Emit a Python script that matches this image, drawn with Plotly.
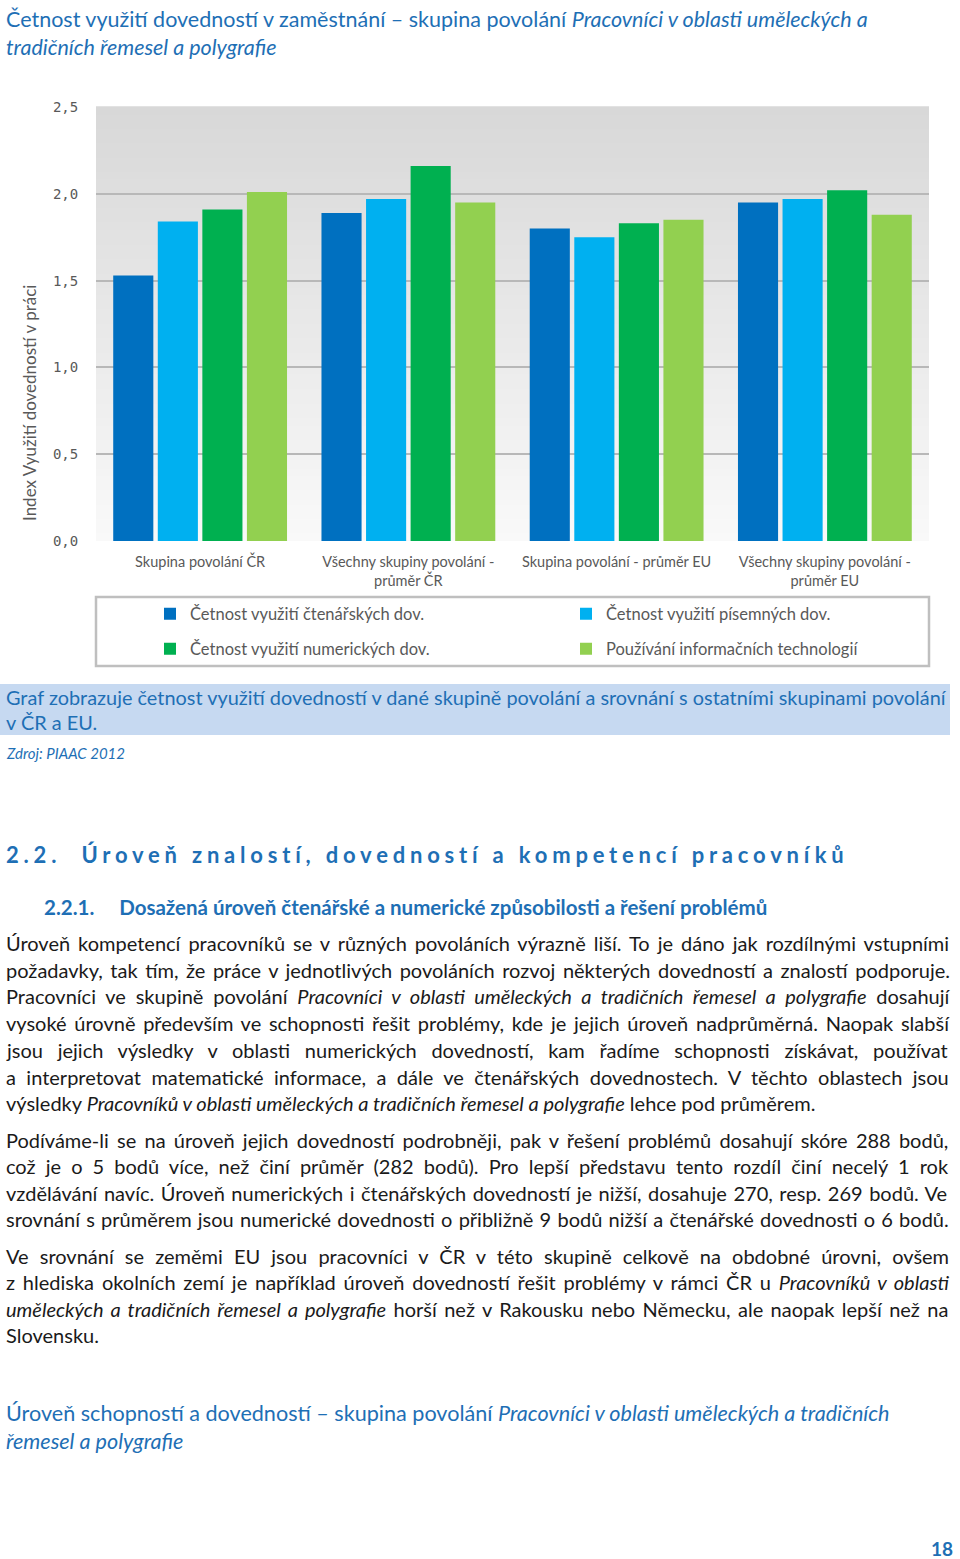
import plotly.graph_objects as go

# ---------------- data ----------------
categories = ["Skupina povolání ČR",
              "Všechny skupiny povolání -<br>průměr ČR",
              "Skupina povolání - průměr EU",
              "Všechny skupiny povolání -<br>průměr EU"]
series_names = ["Četnost využití čtenářských dov.",
                "Četnost využití písemných dov.",
                "Četnost využití numerických dov.",
                "Používání informačních technologií"]
ctenarske = [1.53, 1.89, 1.80, 1.95]
pisemne = [1.84, 1.97, 1.75, 1.97]
numericke = [1.91, 2.16, 1.83, 2.02]
ict = [2.01, 1.95, 1.85, 1.88]
series_values = [ctenarske, pisemne, numericke, ict]
colors = ["#0070C0", "#00B0F0", "#00B050", "#92D050"]
y_ticks = [0.0, 0.5, 1.0, 1.5, 2.0, 2.5]

# ---------------- layout helpers ----------------
W, H = 960, 1559
L, R, T, B = 96, 929, 107, 541


def px(x):
    return (x - L) / (R - L)


def py(y):
    return (B - y) / (B - T)


BLUE = "#1E6FB5"
GRAY = "#595959"
TXT = "#1a1a1a"
FONT = "Lato, Open Sans, sans-serif"

legend_ids = ["legend", "legend2", "legend3", "legend4"]
legend_pos = [(150, 614), (566, 614), (150, 649), (566, 649)]

fig = go.Figure()
for i, (name, vals) in enumerate(zip(series_names, series_values)):
    fig.add_trace(go.Bar(
        x=categories, y=vals, name=name,
        marker=dict(color=colors[i], line=dict(width=0)),
        legend=legend_ids[i],
        hoverinfo="skip",
    ))

shapes = []
# gradient background of the plot area
N = 60
top = (216, 216, 216)
bot = (249, 249, 249)
for k in range(N):
    t = k / (N - 1)
    c = tuple(int(round(bot[j] + (top[j] - bot[j]) * t)) for j in range(3))
    shapes.append(dict(type="rect", xref="paper", yref="paper",
                       x0=0, x1=1, y0=k / N, y1=(k + 1) / N + 0.002,
                       fillcolor="rgb(%d,%d,%d)" % c, line=dict(width=0),
                       layer="below"))
# legend frame
shapes.append(dict(type="rect", xref="paper", yref="paper",
                   x0=px(96), x1=px(929), y0=py(597), y1=py(666),
                   line=dict(color="#BFBFBF", width=2.5), fillcolor="rgba(0,0,0,0)"))
# caption background
shapes.append(dict(type="rect", xref="paper", yref="paper",
                   x0=px(0), x1=px(950), y0=py(684), y1=py(735),
                   line=dict(width=0), fillcolor="#C6D9F1", layer="below"))

ann = []


def text(x, y, s, size, color=TXT, bold=False, anchor="left", family=FONT, ws=0, **kw):
    if ws:
        s = "<span style='word-spacing:%.1fpx'>%s</span>" % (ws, s)
    if bold:
        s = "<b>" + s + "</b>"
    ann.append(dict(x=px(x), y=py(y), xref="paper", yref="paper", text=s,
                    showarrow=False, xanchor=anchor, yanchor="middle",
                    font=dict(size=size, color=color, family=family), **kw))


# chart title
text(4, 19, "Četnost využití dovedností v zaměstnání – skupina povolání <i>Pracovníci v oblasti uměleckých a</i>", 21.5, BLUE)
text(4, 47, "<i>tradičních řemesel a polygrafie</i>", 21.5, BLUE)

# y-axis title
ann.append(dict(x=px(30), y=py(403), xref="paper", yref="paper",
                text="Index Využití dovedností v práci", textangle=-90,
                showarrow=False, xanchor="center", yanchor="middle",
                font=dict(size=17, color=GRAY, family=FONT)))

# caption
text(4, 697, "Graf zobrazuje četnost využití dovedností v dané skupině povolání a srovnání s ostatními skupinami povolání", 19.9, BLUE)
text(4, 722, "v ČR a EU.", 19.9, BLUE)
text(4, 753, "<i>Zdroj: PIAAC 2012</i>", 15, BLUE)

# headings
text(4, 854, "<span style='letter-spacing:4.8px'>2.2.  Úroveň znalostí, dovedností a kompetencí pracovníků</span>", 22, BLUE, bold=True)
text(42, 907, "2.2.1.     Dosažená úroveň čtenářské a numerické způsobilosti a řešení problémů", 20.5, BLUE, bold=True)

body = [
    (943, "Úroveň kompetencí pracovníků se v různých povoláních výrazně liší. To je dáno jak rozdílnými vstupními", 2.9),
    (970, "požadavky, tak tím, že práce v jednotlivých povoláních rozvoj některých dovedností a znalostí podporuje.", 2.4),
    (996, "Pracovníci ve skupině povolání <i>Pracovníci v oblasti uměleckých a tradičních řemesel a polygrafie</i> dosahují", 4.7),
    (1023, "vysoké úrovně především ve schopnosti řešit problémy, kde je jejich úroveň nadprůměrná. Naopak slabší", 2.6),
    (1050, "jsou jejich výsledky v oblasti numerických dovedností, kam řadíme schopnosti získávat, používat", 9.6),
    (1077, "a interpretovat matematické informace, a dále ve čtenářských dovednostech. V těchto oblastech jsou", 5.3),
    (1103, "výsledky <i>Pracovníků v oblasti uměleckých a tradičních řemesel a polygrafie</i> lehce pod průměrem.", 0),
    (1140, "Podíváme-li se na úroveň jejich dovedností podrobněji, pak v řešení problémů dosahují skóre 288 bodů,", 3.1),
    (1166, "což je o 5 bodů více, než činí průměr (282 bodů). Pro lepší představu tento rozdíl činí necelý 1 rok", 5.0),
    (1193, "vzdělávání navíc. Úroveň numerických i čtenářských dovedností je nižší, dosahuje 270, resp. 269 bodů. Ve", 1.45),
    (1219, "srovnání s průměrem jsou numerické dovednosti o přibližně 9 bodů nižší a čtenářské dovednosti o 6 bodů.", 1.1),
    (1256, "Ve srovnání se zeměmi EU jsou pracovníci v ČR v této skupině celkově na obdobné úrovni, ovšem", 6.0),
    (1282, "z hlediska okolních zemí je například úroveň dovedností řešit problémy v rámci ČR u <i>Pracovníků v oblasti</i>", 2.7),
    (1309, "<i>uměleckých a tradičních řemesel a polygrafie</i> horší než v Rakousku nebo Německu, ale naopak lepší než na", 2.3),
    (1335, "Slovensku.", 0),
]
for y, s, ws in body:
    text(4, y, s, 20, TXT, ws=ws)

text(4, 1413, "Úroveň schopností a dovedností – skupina povolání <i>Pracovníci v oblasti uměleckých a tradičních</i>", 21.6, BLUE)
text(4, 1441, "<i>řemesel a polygrafie</i>", 21.6, BLUE)
text(955, 1548, "18", 19, BLUE, bold=True, anchor="right")

legend_common = dict(orientation="h", xanchor="left", yanchor="middle",
                     bgcolor="rgba(0,0,0,0)", borderwidth=0,
                     font=dict(size=16.5, color=GRAY, family=FONT),
                     itemclick=False, itemdoubleclick=False)
legends = {}
for lid, (lx, ly) in zip(legend_ids, legend_pos):
    legends[lid] = dict(x=px(lx), y=py(ly), **legend_common)

fig.update_layout(
    width=W, height=H,
    margin=dict(l=L, r=W - R, t=T, b=H - B, pad=0),
    paper_bgcolor="white", plot_bgcolor="rgba(0,0,0,0)",
    separators=", ",
    barmode="group", bargap=0.144, bargroupgap=0.1,
    shapes=shapes, annotations=ann,
    showlegend=True,
    xaxis=dict(showgrid=False, showline=False, zeroline=False,
               ticks="outside", ticklen=8, tickcolor="rgba(0,0,0,0)",
               tickfont=dict(size=14.5, color=GRAY, family=FONT),
               automargin=False, fixedrange=True),
    yaxis=dict(range=[0, 2.5], tickvals=y_ticks, tickformat=".1f",
               showgrid=True, gridcolor="#B8B8B8", gridwidth=2,
               zeroline=False, showline=False,
               ticks="outside", ticklen=14, tickcolor="rgba(0,0,0,0)",
               tickfont=dict(size=14, color=GRAY, family="DejaVu Sans Mono"),
               automargin=False, fixedrange=True),
    **legends,
)

fig.write_html("out.html",
               config={"displayModeBar": False, "staticPlot": True},
               post_script="document.body.style.margin='0px';"
                           "document.documentElement.style.overflow='hidden';")
